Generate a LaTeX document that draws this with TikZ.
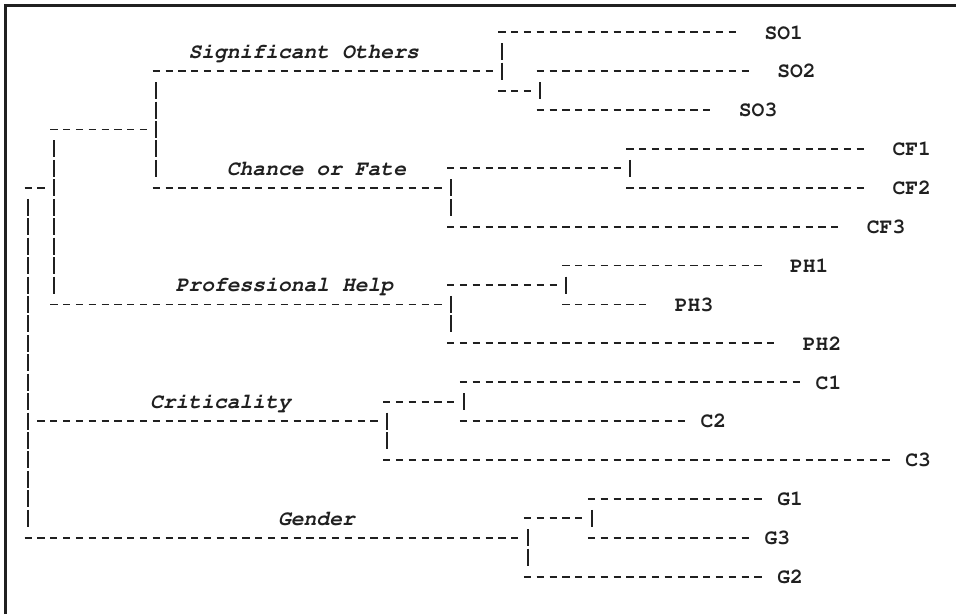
\documentclass[tikz,border=0pt]{standalone}
\usepackage[T1]{fontenc}
\definecolor{ink}{RGB}{32,32,32}
\newcommand{\courfont}{\fontencoding{T1}\fontfamily{pcr}\fontseries{b}\fontsize{21.33pt}{25pt}\selectfont}
\begin{document}
\begin{tikzpicture}[x=12.8pt, y=-19.44pt,
  hd/.style={draw=ink, line width=1.8pt, dash pattern=on 7.2pt off 5.6pt, shorten <=-3.6pt, shorten >=-3.6pt},
  hdj/.style={hd, shorten >=9.2pt},
  hdb/.style={hd, shorten <=9.2pt, shorten >=9.2pt},
  leafline/.style={hd, shorten >=28.4pt},
  leaflineone/.style={hd, shorten >=15.6pt},
  vd/.style={draw=ink, line width=2pt, dash pattern=on 17pt off 2.44pt, shorten <=10.94pt, shorten >=10.94pt},
  leaf/.style={anchor=base west, inner sep=0pt, yshift=-6.8pt, text=ink, font=\courfont},
  cat/.style={leaf, font=\courfont\slshape}]
% canvas: pixel (px,py) -> (px-28.3pt, 32.3pt-py)
\useasboundingbox (-28.3pt,32.3pt) rectangle (927.7pt,-581.7pt);
\coordinate (frameBL) at (-22.8pt,-581.7pt);
\coordinate (frameTL) at (-22.8pt,26.8pt);
\coordinate (frameTR) at (927.7pt,26.8pt);
\draw[ink, line width=2.6pt] (frameBL) -- (frameTL) -- (frameTR);

% leaf labels
\node[leaf] (so1) at (57.5,0) {SO1};
\node[leaf] (so2) at (58.5,2) {SO2};
\node[leaf] (so3) at (55.5,4) {SO3};
\node[leaf] (cf1) at (67.5,6) {CF1};
\node[leaf] (cf2) at (67.5,8) {CF2};
\node[leaf] (cf3) at (65.5,10) {CF3};
\node[leaf] (ph1) at (59.5,12) {PH1};
\node[leaf] (ph3) at (50.5,14) {PH3};
\node[leaf] (ph2) at (60.5,16) {PH2};
\node[leaf] (c1) at (61.5,18) {C1};
\node[leaf] (c2) at (52.5,20) {C2};
\node[leaf] (c3) at (68.5,22) {C3};
\node[leaf] (g1) at (58.5,24) {G1};
\node[leaf] (g3) at (57.5,26) {G3};
\node[leaf] (g2) at (58.5,28) {G2};

% cluster labels
\node[cat] (sigoth) at (12.5,1) {Significant Others};
\node[cat] (chance) at (15.5,7) {Chance or Fate};
\node[cat] (profh) at (11.5,13) {Professional Help};
\node[cat] (crit) at (9.5,19) {Criticality};
\node[cat] (gender) at (19.5,25) {Gender};

% corner / joint coordinates
\coordinate (so1s) at (37,0);
\coordinate (so23) at (37,3);
\coordinate (so23j) at (40,3);
\coordinate (so2s) at (40,2);
\coordinate (so3s) at (40,4);
\coordinate (sos) at (10,2);
\coordinate (sojoin) at (37,2);
\coordinate (cfs) at (10,8);
\coordinate (cfjoin) at (33,8);
\coordinate (cf12) at (33,7);
\coordinate (cf12j) at (47,7);
\coordinate (cf1s) at (47,6);
\coordinate (cf2s) at (47,8);
\coordinate (cf3s) at (33,10);
\coordinate (topc) at (2,5);
\coordinate (topj) at (10,5);
\coordinate (phs) at (2,14);
\coordinate (phjoin) at (33,14);
\coordinate (ph13) at (33,13);
\coordinate (ph13j) at (42,13);
\coordinate (ph1s) at (42,12);
\coordinate (ph3s) at (42,14);
\coordinate (ph2s) at (33,16);
\coordinate (root) at (0,8);
\coordinate (rootj) at (2,8);
\coordinate (cs) at (0,20);
\coordinate (cjoin) at (28,20);
\coordinate (c12) at (28,19);
\coordinate (c12j) at (34,19);
\coordinate (c1s) at (34,18);
\coordinate (c2s) at (34,20);
\coordinate (c3s) at (28,22);
\coordinate (gs) at (0,26);
\coordinate (gjoin) at (39,26);
\coordinate (g13) at (39,25);
\coordinate (g13j) at (44,25);
\coordinate (g1s) at (44,24);
\coordinate (g3s) at (44,26);
\coordinate (g2s) at (39,28);

% vertical bars
\draw[vd] (so1s) -- (so23);
\draw[vd] (so2s) -- (so3s);
\draw[vd] (sos) -- (cfs);
\draw[vd] (cf1s) -- (cf2s);
\draw[vd] (cf12) -- (cf3s);
\draw[vd] (topc) -- (phs);
\draw[vd] (ph1s) -- (ph3s);
\draw[vd] (ph13) -- (ph2s);
\draw[vd] (root) -- (gs);
\draw[vd] (c1s) -- (c2s);
\draw[vd] (c12) -- (c3s);
\draw[vd] (g1s) -- (g3s);
\draw[vd] (g13) -- (g2s);

% horizontal lines into joints
\draw[hdj] (sos) -- (sojoin);
\draw[hdj] (so23) -- (so23j);
\draw[hdj] (topc) -- (topj);
\draw[hdj] (cf12) -- (cf12j);
\draw[hdj] (cfs) -- (cfjoin);
\draw[hdj] (root) -- (rootj);
\draw[hdj] (ph13) -- (ph13j);
\draw[hdj] (phs) -- (phjoin);
\draw[hdj] (c12) -- (c12j);
\draw[hdb] (cs) -- (cjoin);
\draw[hdj] (g13) -- (g13j);
\draw[hdj] (gs) -- (gjoin);

% leaf lines
\draw[leafline] (so1s) -- (so1s -| so1.west);
\draw[leafline] (so2s) -- (so2s -| so2.west);
\draw[leafline] (so3s) -- (so3s -| so3.west);
\draw[leafline] (cf1s) -- (cf1s -| cf1.west);
\draw[leafline] (cf2s) -- (cf2s -| cf2.west);
\draw[leafline] (cf3s) -- (cf3s -| cf3.west);
\draw[leafline] (ph1s) -- (ph1s -| ph1.west);
\draw[leafline] (ph3s) -- (ph3s -| ph3.west);
\draw[leafline] (ph2s) -- (ph2s -| ph2.west);
\draw[leaflineone] (c1s) -- (c1s -| c1.west);
\draw[leaflineone] (c2s) -- (c2s -| c2.west);
\draw[leaflineone] (c3s) -- (c3s -| c3.west);
\draw[leaflineone] (g1s) -- (g1s -| g1.west);
\draw[leaflineone] (g3s) -- (g3s -| g3.west);
\draw[leaflineone] (g2s) -- (g2s -| g2.west);
\end{tikzpicture}
\end{document}
